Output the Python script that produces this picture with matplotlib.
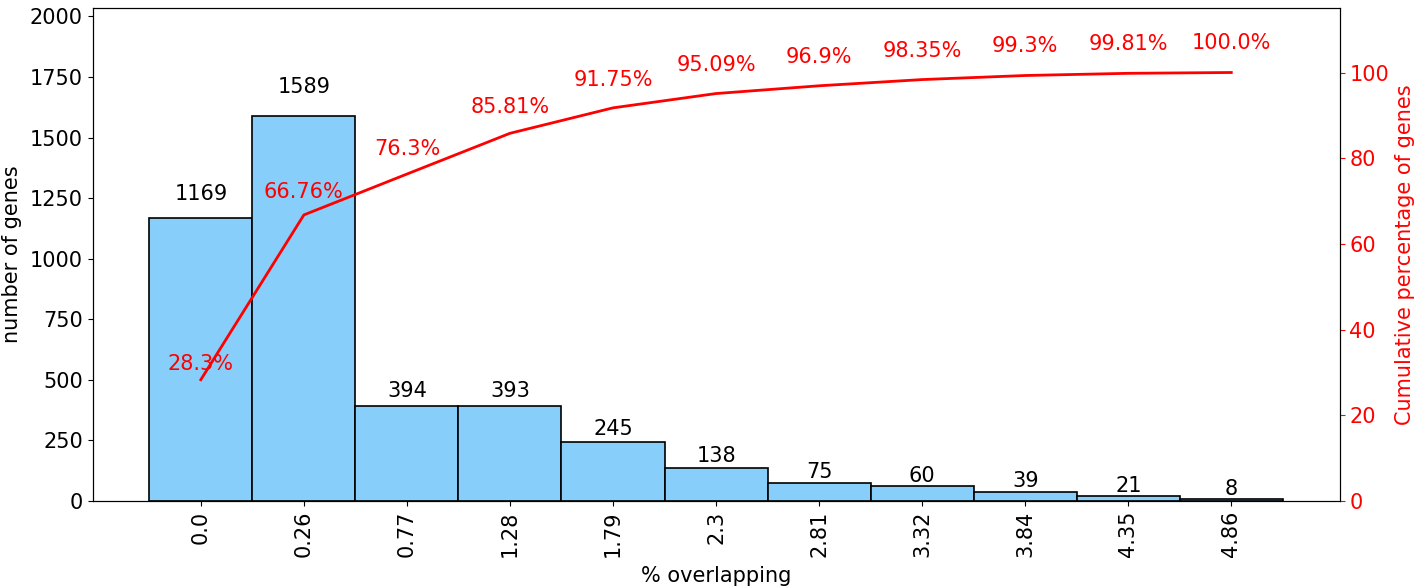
import matplotlib
matplotlib.use("Agg")
import matplotlib.pyplot as plt
import numpy as np

tick_labels = ["0.0", "0.26", "0.77", "1.28", "1.79", "2.3", "2.81", "3.32", "3.84", "4.35", "4.86"]
counts = [1169, 1589, 394, 393, 245, 138, 75, 60, 39, 21, 8]
cum_pct = [28.3, 66.76, 76.3, 85.81, 91.75, 95.09, 96.9, 98.35, 99.3, 99.81, 100.0]

plt.rcParams["font.size"] = 15
fig, ax = plt.subplots(figsize=(14.25, 5.88), dpi=100)
x = np.arange(len(counts))
ax.bar(x, counts, width=1.0, color="lightskyblue", edgecolor="black", linewidth=1.2)
ax.set_ylim(0, max(counts) * 1.28)
ax.set_xticks(x)
ax.set_xticklabels(tick_labels, rotation=90)
ax.set_xlabel("% overlapping", labelpad=6)
ax.set_ylabel("number of genes", labelpad=6)
for xi, c in zip(x, counts):
    ax.text(xi, c * 1.05, str(c), ha="center", va="bottom", fontsize=15)

ax2 = ax.twinx()
ax2.plot(x, cum_pct, color="red", linewidth=2)
ax2.set_ylim(0, 115)
ax2.set_ylabel("Cumulative percentage of genes", color="red")
ax2.tick_params(axis="y", colors="red")
ax2.spines["right"].set_color("black")
for xi, p in zip(x, cum_pct):
    ax2.text(xi, p * 1.045, f"{p}%", ha="center", va="bottom", color="red", fontsize=15)

fig.subplots_adjust(left=0.065, right=0.94, top=0.986, bottom=0.148)
fig.savefig("out.png", dpi=100)
